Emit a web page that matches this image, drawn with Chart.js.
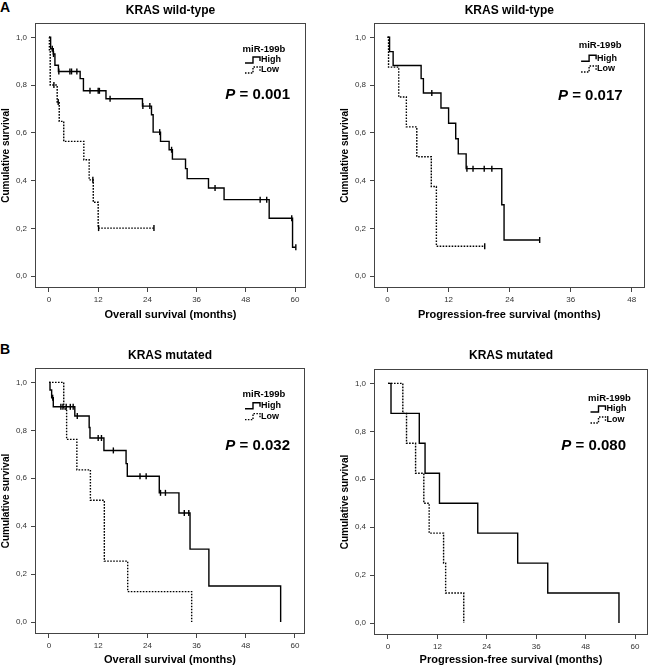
<!DOCTYPE html>
<html><head><meta charset="utf-8">
<script src="https://cdn.jsdelivr.net/npm/chart.js@4.4.0/dist/chart.umd.min.js"></script>
<style>
html,body{margin:0;padding:0;background:#fff;}
#wrap{position:relative;width:650px;height:668px;overflow:hidden;background:#fff;}
.cv{position:absolute;}
.letter{position:absolute;font:bold 14px "Liberation Sans",Arial,sans-serif;color:#000;line-height:14px;}
</style></head><body>
<div id="wrap">
<div class="letter" style="left:0;top:0">A</div>
<div class="letter" style="left:0;top:342px">B</div>
<canvas id="c1" class="cv" style="left:0;top:0"></canvas>
<canvas id="c2" class="cv" style="left:339px;top:0"></canvas>
<canvas id="c3" class="cv" style="left:0;top:345px"></canvas>
<canvas id="c4" class="cv" style="left:339px;top:345px"></canvas>
</div>
<script>
// ---------- shared labels ----------
const GROUP_TITLE = 'miR-199b';
const GROUP_NAMES = ['High', 'Low'];
const Y_TICKS = [0, 0.2, 0.4, 0.6, 0.8, 1.0];
const Y_TITLE = 'Cumulative survival';

// ---------- Panel A (left): KRAS wild-type, overall survival ----------
const A1_TITLE = 'KRAS wild-type';
const A1_XTITLE = 'Overall survival (months)';
const A1_P = '0.001';
const A1_XTICKS = [0, 12, 24, 36, 48, 60];
const A1_HIGH_T = [0, 0.4, 1.05, 1.45, 2.3, 7.6, 8.4, 13.9, 22.8, 25.0, 25.4, 27.2, 29.3, 30.1, 33.3, 33.7, 38.9, 42.7, 53.7, 59.4, 60.2];
const A1_HIGH_S = [1.0, 0.952, 0.930, 0.883, 0.857, 0.827, 0.776, 0.743, 0.712, 0.676, 0.603, 0.564, 0.529, 0.490, 0.450, 0.408, 0.369, 0.320, 0.242, 0.121, 0.121];
const A1_HIGH_CT = [0.8, 1.1, 2.4, 5.1, 5.5, 6.8, 10.0, 12.0, 12.3, 14.9, 22.9, 24.6, 27.0, 29.9, 40.5, 51.5, 53.1, 59.2, 60.2];
const A1_HIGH_CS = [0.952, 0.930, 0.857, 0.857, 0.857, 0.857, 0.776, 0.776, 0.776, 0.743, 0.712, 0.712, 0.603, 0.529, 0.369, 0.320, 0.320, 0.242, 0.121];
const A1_LOW_T = [0, 0.1, 0.3, 2.0, 2.5, 3.6, 8.5, 9.8, 10.8, 12.0, 25.6];
const A1_LOW_S = [1.0, 0.94, 0.80, 0.729, 0.648, 0.564, 0.487, 0.403, 0.309, 0.201, 0.201];
const A1_LOW_CT = [1.2, 2.25, 10.7, 12.1, 25.6];
const A1_LOW_CS = [0.80, 0.729, 0.403, 0.201, 0.201];

// ---------- Panel A (right): KRAS wild-type, progression-free survival ----------
const A2_TITLE = 'KRAS wild-type';
const A2_XTITLE = 'Progression-free survival (months)';
const A2_P = '0.017';
const A2_XTICKS = [0, 12, 24, 36, 48];
const A2_HIGH_T = [0, 0.4, 1.1, 6.6, 7.05, 10.5, 12.0, 13.4, 13.9, 15.45, 22.45, 22.9, 29.9];
const A2_HIGH_S = [1.0, 0.94, 0.882, 0.827, 0.767, 0.704, 0.640, 0.575, 0.512, 0.450, 0.299, 0.151, 0.151];
const A2_HIGH_CT = [8.7, 15.6, 16.8, 19.0, 20.5, 29.9];
const A2_HIGH_CS = [0.767, 0.450, 0.450, 0.450, 0.450, 0.151];
const A2_LOW_T = [0, 0.2, 2.2, 3.7, 5.75, 8.6, 9.6, 19.1];
const A2_LOW_S = [1.0, 0.875, 0.75, 0.625, 0.5, 0.375, 0.125, 0.125];
const A2_LOW_CT = [19.1];
const A2_LOW_CS = [0.125];

// ---------- Panel B (left): KRAS mutated, overall survival ----------
const B1_TITLE = 'KRAS mutated';
const B1_XTITLE = 'Overall survival (months)';
const B1_P = '0.032';
const B1_XTICKS = [0, 12, 24, 36, 48, 60];
const B1_HIGH_T = [0, 0.25, 0.65, 1.05, 6.3, 9.8, 10.0, 13.4, 18.8, 19.1, 26.9, 31.7, 34.4, 39.0, 56.5];
const B1_HIGH_S = [1.0, 0.968, 0.936, 0.898, 0.860, 0.812, 0.768, 0.716, 0.661, 0.608, 0.539, 0.455, 0.304, 0.150, 0.0];
const B1_HIGH_CT = [0.9, 2.9, 3.4, 4.2, 5.2, 5.9, 6.9, 12.0, 12.8, 15.7, 22.2, 23.7, 27.2, 28.4, 33.0, 34.1];
const B1_HIGH_CS = [0.936, 0.898, 0.898, 0.898, 0.898, 0.898, 0.860, 0.768, 0.768, 0.716, 0.608, 0.608, 0.539, 0.539, 0.455, 0.455];
const B1_LOW_T = [0, 3.6, 4.3, 6.8, 10.1, 13.5, 19.2, 34.8];
const B1_LOW_S = [1.0, 0.889, 0.762, 0.635, 0.508, 0.254, 0.127, 0.0];
const B1_LOW_CT = [];
const B1_LOW_CS = [];

// ---------- Panel B (right): KRAS mutated, progression-free survival ----------
const B2_TITLE = 'KRAS mutated';
const B2_XTITLE = 'Progression-free survival (months)';
const B2_P = '0.080';
const B2_XTICKS = [0, 12, 24, 36, 48, 60];
const B2_HIGH_T = [0, 0.73, 7.6, 9.0, 12.5, 21.8, 31.5, 38.8, 56.1];
const B2_HIGH_S = [1.0, 0.875, 0.75, 0.625, 0.5, 0.375, 0.25, 0.125, 0.0];
const B2_HIGH_CT = [];
const B2_HIGH_CS = [];
const B2_LOW_T = [0, 3.6, 4.5, 6.7, 8.7, 10.0, 13.5, 14.0, 18.4];
const B2_LOW_S = [1.0, 0.875, 0.75, 0.625, 0.5, 0.375, 0.25, 0.125, 0.0];
const B2_LOW_CT = [];
const B2_LOW_CS = [];

Chart.defaults.font.family = '"Liberation Sans", Arial, sans-serif';
Chart.defaults.color = '#000';

const pts = (T, S) => T.map((t, i) => ({x: t, y: S[i]}));
const fmtComma = v => v.toFixed(1).replace('.', ',');

const kmPlugin = {
  id: 'km',
  beforeDatasetsDraw(chart) {
    const {ctx, chartArea: a} = chart;
    ctx.save();
    ctx.strokeStyle = '#444';
    ctx.lineWidth = 1;
    ctx.strokeRect(Math.round(a.left) + 0.5, Math.round(a.top) + 0.5,
      Math.round(a.right - a.left) - 1, Math.round(a.bottom - a.top) - 1);
    ctx.restore();
  },
  afterDraw(chart, args, o) {
    const {ctx, chartArea: a} = chart;
    ctx.save();
    ctx.fillStyle = '#000';
    ctx.textBaseline = 'middle';
    const cx = a.right - o.cx;
    ctx.font = 'bold 9.5px "Liberation Sans", Arial, sans-serif';
    ctx.textAlign = 'center';
    ctx.fillText(GROUP_TITLE, cx, a.top + o.ty);
    ctx.textAlign = 'left';
    ctx.font = 'bold 9px "Liberation Sans", Arial, sans-serif';
    const rows = [a.top + o.hy, a.top + o.ly];
    rows.forEach((ry, i) => {
      ctx.fillText(GROUP_NAMES[i], cx - 3, ry);
      ctx.beginPath();
      ctx.strokeStyle = '#000';
      ctx.lineWidth = 1.4;
      ctx.setLineDash(i === 0 ? [] : [1.5, 1.4]);
      const g0 = cx - 19, g1 = cx - 11, g2 = cx - 4;
      ctx.moveTo(g0, ry + 3);
      ctx.lineTo(g1, ry + 3);
      ctx.lineTo(g1, ry - 3);
      ctx.lineTo(g2, ry - 3);
      ctx.lineTo(g2, ry + 1);
      ctx.stroke();
      ctx.setLineDash([]);
    });
    const fp = 'bold 15px "Liberation Sans", Arial, sans-serif';
    const fpi = 'italic bold 15px "Liberation Sans", Arial, sans-serif';
    const rest = ' = ' + o.p;
    ctx.font = fp; const w2 = ctx.measureText(rest).width;
    ctx.font = fpi; const w1 = ctx.measureText('P').width;
    const x0 = a.right - o.pr - w1 - w2;
    ctx.fillText('P', x0, a.top + o.py);
    ctx.font = fp;
    ctx.fillText(rest, x0 + w1, a.top + o.py);
    ctx.restore();
  }
};

function makeKM(id, P) {
  const cv = document.getElementById(id);
  cv.width = P.w; cv.height = P.h;
  cv.style.width = P.w + 'px'; cv.style.height = P.h + 'px';
  const lineDs = (T, S, dashed) => ({
    data: pts(T, S), stepped: true, borderColor: '#000', borderWidth: 1.4,
    borderDash: dashed ? [1.6, 1.4] : [], pointRadius: 0, fill: false, order: 2
  });
  const censDs = (T, S) => ({
    data: pts(T, S), showLine: false, pointStyle: 'line', rotation: 90,
    pointRadius: 3, pointBorderWidth: 1.4, borderColor: '#000', backgroundColor: '#000', order: 1
  });
  return new Chart(cv, {
    type: 'line',
    data: {datasets: [
      lineDs(P.hT, P.hS, false), lineDs(P.lT, P.lS, true),
      censDs(P.hCT, P.hCS), censDs(P.lCT, P.lCS)
    ]},
    options: {
      responsive: false, animation: false, devicePixelRatio: 1,
      layout: {padding: {left: 0, right: P.padR, top: 0, bottom: 0}},
      plugins: {
        legend: {display: false}, tooltip: {enabled: false},
        title: {display: true, text: P.title, fullSize: false,
          font: {size: 12, weight: 'bold'}, color: '#000', padding: {top: 3, bottom: P.titleGap}},
        km: P.leg
      },
      scales: {
        x: {type: 'linear', min: P.xmin, max: P.xmax,
          afterBuildTicks: s => { s.ticks = P.xt.map(v => ({value: v})); },
          afterFit: s => { s.height = P.xh; },
          ticks: {font: {size: 8}, color: '#333', padding: 3, maxRotation: 0, autoSkip: false,
            callback: v => String(v)},
          grid: {drawOnChartArea: false, drawTicks: true, tickLength: 4, color: '#444'},
          border: {display: false},
          title: {display: true, text: P.xtitle, font: {size: 11, weight: 'bold'}, color: '#000',
            padding: {top: 0, bottom: 1}}
        },
        y: {type: 'linear', min: -0.05, max: 1.06,
          afterBuildTicks: s => { s.ticks = Y_TICKS.map(v => ({value: v})); },
          afterFit: s => { s.width = 35; },
          ticks: {font: {size: 8}, color: '#333', padding: 4, autoSkip: false,
            callback: v => fmtComma(v)},
          grid: {drawOnChartArea: false, drawTicks: true, tickLength: 4, color: '#444'},
          border: {display: false},
          title: {display: true, text: Y_TITLE, font: {size: 10, weight: 'bold'}, color: '#000',
            padding: {top: 0, bottom: 0}}
        }
      }
    },
    plugins: [kmPlugin]
  });
}

makeKM('c1', {w: 325, h: 323, padR: 19, xh: 35, titleGap: 5.6, xmin: -3.41, xmax: 62.68,
  title: A1_TITLE, xtitle: A1_XTITLE, xt: A1_XTICKS,
  hT: A1_HIGH_T, hS: A1_HIGH_S, lT: A1_LOW_T, lS: A1_LOW_S,
  hCT: A1_HIGH_CT, hCS: A1_HIGH_CS, lCT: A1_LOW_CT, lCS: A1_LOW_CS,
  leg: {cx: 42, ty: 26, hy: 37, ly: 47, pr: 16, py: 72, p: A1_P}});
makeKM('c2', {w: 311, h: 323, padR: 2, xh: 35, titleGap: 5.6, xmin: -2.66, xmax: 50.52,
  title: A2_TITLE, xtitle: A2_XTITLE, xt: A2_XTICKS,
  hT: A2_HIGH_T, hS: A2_HIGH_S, lT: A2_LOW_T, lS: A2_LOW_S,
  hCT: A2_HIGH_CT, hCS: A2_HIGH_CS, lCT: A2_LOW_CT, lCS: A2_LOW_CS,
  leg: {cx: 44.5, ty: 22.6, hy: 35.3, ly: 46, pr: 22, py: 73.3, p: A2_P}});
makeKM('c3', {w: 325, h: 323, padR: 20, xh: 34, titleGap: 5.6, xmin: -3.41, xmax: 62.44,
  title: B1_TITLE, xtitle: B1_XTITLE, xt: B1_XTICKS,
  hT: B1_HIGH_T, hS: B1_HIGH_S, lT: B1_LOW_T, lS: B1_LOW_S,
  hCT: B1_HIGH_CT, hCS: B1_HIGH_CS, lCT: B1_LOW_CT, lCS: B1_LOW_CS,
  leg: {cx: 41, ty: 26, hy: 37.7, ly: 48.6, pr: 15, py: 78, p: B1_P}});
makeKM('c4', {w: 311, h: 323, padR: 2, xh: 33, titleGap: 6.6, xmin: -3.40, xmax: 63.15,
  title: B2_TITLE, xtitle: B2_XTITLE, xt: B2_XTICKS,
  hT: B2_HIGH_T, hS: B2_HIGH_S, lT: B2_LOW_T, lS: B2_LOW_S,
  hCT: B2_HIGH_CT, hCS: B2_HIGH_CS, lCT: B2_LOW_CT, lCS: B2_LOW_CS,
  leg: {cx: 38.5, ty: 29, hy: 40, ly: 51, pr: 22, py: 77, p: B2_P}});
</script>
</body></html>
